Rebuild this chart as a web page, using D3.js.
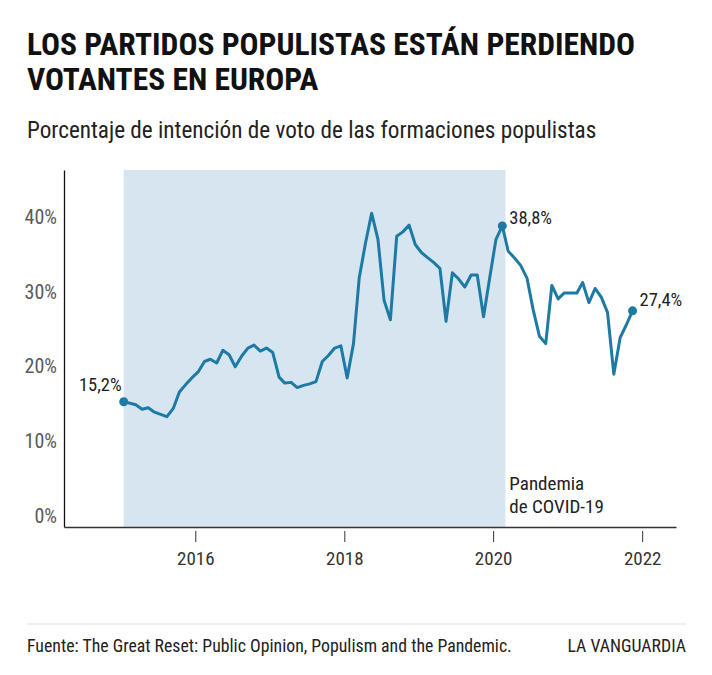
<!DOCTYPE html>
<html>
<head>
<meta charset="utf-8">
<script src="https://cdn.jsdelivr.net/npm/d3@7"></script>
<style>
  html, body { margin: 0; padding: 0; background: #fff; }
  svg { display: block; }
  text { font-family: "Roboto Condensed", "Liberation Sans Narrow", "Arial Narrow", Roboto, sans-serif; }
</style>
</head>
<body>
<svg id="chart" width="712" height="675"></svg>
<script>
// ---- Data ----
const startYear = 2015, startMonth = 0; // Jan 2015, monthly
const values = [
  15.2,15.0,14.8,14.2,14.4,13.8,13.5,13.2,14.3,16.5,
  17.5,18.4,19.2,20.6,20.9,20.4,22.1,21.5,19.9,21.3,
  22.4,22.8,22.0,22.4,21.8,18.5,17.7,17.8,17.1,17.4,
  17.6,17.9,20.6,21.4,22.4,22.7,18.4,23.0,31.8,36.5,
  40.5,37.0,28.8,26.2,37.4,38.0,38.9,36.3,35.2,34.5,
  33.9,33.1,26.0,32.5,31.7,30.6,32.2,32.2,26.6,31.8,
  37.0,38.8,35.4,34.5,33.5,31.8,27.6,24.0,23.0,30.8,
  29.0,29.8,29.8,29.8,31.2,28.5,30.4,29.2,27.2,18.9,
  23.8,25.5,27.4
];
const yTicks = [0, 10, 20, 30, 40];
const xTickYears = [2016, 2018, 2020, 2022];
const shadeStart = new Date(2015, 0, 15);
const shadeEnd = new Date(2020, 2, 1);
const labelIdx = [0, 61, 82]; // 15,2% / 38,8% / 27,4%
const pandemicLabel = ["Pandemia", "de COVID-19"];

const data = values.map((v, i) => ({ date: new Date(startYear, startMonth + i, 15), value: v }));

// ---- Layout ----
const svg = d3.select("#chart");
const plotLeft = 64, plotRight = 676, plotTop = 170, axisY = 527;

const x = d3.scaleTime()
  .domain([new Date(2014, 2, 28), new Date(2022, 5, 16)])
  .range([plotLeft, plotRight]);
const y = d3.scaleLinear().domain([-1.61, 46.3]).range([axisY, plotTop]);

const fmt = v => d3.format(".1f")(v).replace(".", ",") + "%";

// Title & subtitle
const title = svg.append("g").attr("fill", "#111").attr("font-weight", "bold").attr("font-size", 31.5);
title.append("text").attr("x", 27).attr("y", 55).text("LOS PARTIDOS POPULISTAS ESTÁN PERDIENDO");
title.append("text").attr("x", 27).attr("y", 90).text("VOTANTES EN EUROPA");
svg.append("text").attr("x", 27).attr("y", 138).attr("font-size", 23.2).attr("fill", "#222")
  .text("Porcentaje de intención de voto de las formaciones populistas");

// Shaded region
svg.append("rect")
  .attr("x", x(shadeStart)).attr("y", plotTop)
  .attr("width", x(shadeEnd) - x(shadeStart)).attr("height", axisY - plotTop)
  .attr("fill", "#d7e5f0");

// Y axis
const yAxis = svg.append("g").attr("transform", `translate(${plotLeft},0)`)
  .call(d3.axisLeft(y).tickValues(yTicks).tickSize(0).tickPadding(7).tickFormat(d => d + "%"));
yAxis.attr("font-family", null);
yAxis.select(".domain").attr("stroke", "#111").attr("stroke-width", 1.3);
yAxis.selectAll("text").attr("font-size", 20).attr("fill", "#5a5a5a").attr("dy", "0.35em");

// X axis
const xAxis = svg.append("g").attr("transform", `translate(0,${axisY})`)
  .call(d3.axisBottom(x).tickValues(xTickYears.map(yr => new Date(yr, 0, 1)))
    .tickSize(0).tickPadding(0).tickFormat(d3.timeFormat("%Y")));
xAxis.attr("font-family", null);
xAxis.select(".domain").attr("stroke", "#333").attr("stroke-width", 1.3);
xAxis.selectAll(".tick line").attr("y1", 4).attr("y2", 15).attr("stroke", "#333");
xAxis.selectAll(".tick text").attr("font-size", 19).attr("fill", "#333").attr("y", 38).attr("dy", 0);

// Line
svg.append("path").datum(data)
  .attr("fill", "none").attr("stroke", "#1c7aa5").attr("stroke-width", 3)
  .attr("stroke-linejoin", "round").attr("stroke-linecap", "round")
  .attr("d", d3.line().x(d => x(d.date)).y(d => y(d.value)));

// Highlight dots & labels
const lbl = labelIdx.map(i => data[i]);
svg.selectAll("circle.pt").data(lbl).join("circle").attr("class", "pt")
  .attr("cx", d => x(d.date)).attr("cy", d => y(d.value)).attr("r", 4.5).attr("fill", "#1c7aa5");
const offs = [[-2, -11, "end"], [7, -2, "start"], [7, -5, "start"]];
svg.selectAll("text.pl").data(lbl).join("text").attr("class", "pl")
  .attr("x", (d, i) => x(d.date) + offs[i][0]).attr("y", (d, i) => y(d.value) + offs[i][1])
  .attr("text-anchor", (d, i) => offs[i][2]).attr("font-size", 18.5).attr("fill", "#222")
  .text(d => fmt(d.value));

// Pandemic annotation
svg.append("text").attr("font-size", 19).attr("fill", "#222")
  .selectAll("tspan").data(pandemicLabel).join("tspan")
  .attr("x", x(shadeEnd) + 4).attr("y", (d, i) => 490 + i * 23).text(d => d);

// Footer
svg.append("line").attr("x1", 27).attr("x2", 686).attr("y1", 624).attr("y2", 624)
  .attr("stroke", "#ddd").attr("stroke-width", 1);
svg.append("text").attr("x", 27).attr("y", 652).attr("font-size", 17.8).attr("fill", "#222")
  .text("Fuente: The Great Reset: Public Opinion, Populism and the Pandemic.");
svg.append("text").attr("x", 686).attr("y", 652).attr("font-size", 17.8).attr("fill", "#222")
  .attr("text-anchor", "end").text("LA VANGUARDIA");
</script>
</body>
</html>
